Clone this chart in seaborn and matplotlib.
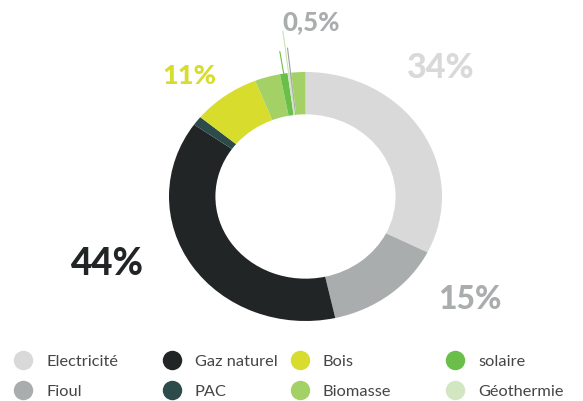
import matplotlib
matplotlib.use("Agg")
import matplotlib.pyplot as plt
import seaborn as sns
import numpy as np

# ---------------- data ----------------
segment_names = ["Electricité", "Fioul", "Gaz naturel", "PAC", "Bois",
                 "Biomasse", "solaire", "Géothermie", "Fioul", "Biomasse"]
segment_shares = [32.4, 14.1, 38.3, 1.2, 8.0, 3.0, 0.9, 0.25, 0.2, 1.65]

legend_names = ["Electricité", "Fioul", "Gaz naturel", "PAC",
                "Bois", "Biomasse", "solaire", "Géothermie"]
legend_colors = ["#d9d9d9", "#aaadad", "#212526", "#2e4b4b",
                 "#d7dc2d", "#a4d165", "#6abf4b", "#d3e6c2"]

pct_labels = ["34%", "15%", "44%", "11%", "0,5%"]
pct_colors = ["#d9d9d9", "#aaadad", "#212526", "#d7dc2d", "#aaadad"]

# ---------------- style ----------------
sns.set_theme(style="white")
plt.rcParams["font.family"] = ["Lato", "DejaVu Sans"]

color_of = dict(zip(legend_names, legend_colors))
seg_colors = sns.color_palette([color_of[n] for n in segment_names])

W, H = 583, 401
fig = plt.figure(figsize=(W / 100, H / 100), dpi=100)
fig.patch.set_facecolor("white")

cx, cy, rx, ry = 305.5, 196.5, 136.5, 124.5
ax = fig.add_axes([(cx - rx) / W, (H - cy - ry) / H, 2 * rx / W, 2 * ry / H])
wedges, _ = ax.pie(segment_shares, colors=seg_colors, startangle=90,
                   counterclock=False, radius=1.0,
                   wedgeprops=dict(width=0.34, linewidth=0))
ax.set_aspect("auto")
ax.set_xlim(-1, 1)
ax.set_ylim(-1, 1)
ax.axis("off")

# leader lines for the tiny slices near the top
leaders = {6: (1.18, "#6abf4b"), 7: (1.34, "#c9e2b8"), 8: (1.2, "#9c9fa0")}
for idx, (r_end, col) in leaders.items():
    w = wedges[idx]
    th = np.deg2rad((w.theta1 + w.theta2) / 2)
    ax.plot([np.cos(th), r_end * np.cos(th)], [np.sin(th), r_end * np.sin(th)],
            color=col, lw=0.8, clip_on=False)

# percentage labels (pixel positions: centre x, baseline y)
pct_pos = [(441, 78, 24.5), (470, 309, 23), (106.5, 275, 26.5), (189, 84, 19.5), (311, 30, 18.5)]
for lab, col, (x, y, fs) in zip(pct_labels, pct_colors, pct_pos):
    fig.text(x / W, 1 - y / H, lab, color=col, fontsize=fs, fontweight="black",
             ha="center", va="baseline")

# legend: overlay axes in pixel units, four columns of two entries
lax = fig.add_axes([0, 0, 1, 1], zorder=5)
lax.set_xlim(0, W)
lax.set_ylim(H, 0)
lax.axis("off")
col_x = [23, 172, 300, 455]
row_y = [360, 390]
for i, (name, col) in enumerate(zip(legend_names, legend_colors)):
    x = col_x[i // 2]
    y = row_y[i % 2]
    lax.scatter([x], [y], s=14 ** 2, color=col, linewidths=0)
    lax.text(x + 23, y, name, color="#454545", fontsize=11.8, fontweight="normal",
             ha="left", va="center_baseline")

fig.savefig("out.png", dpi=100, facecolor="white")
